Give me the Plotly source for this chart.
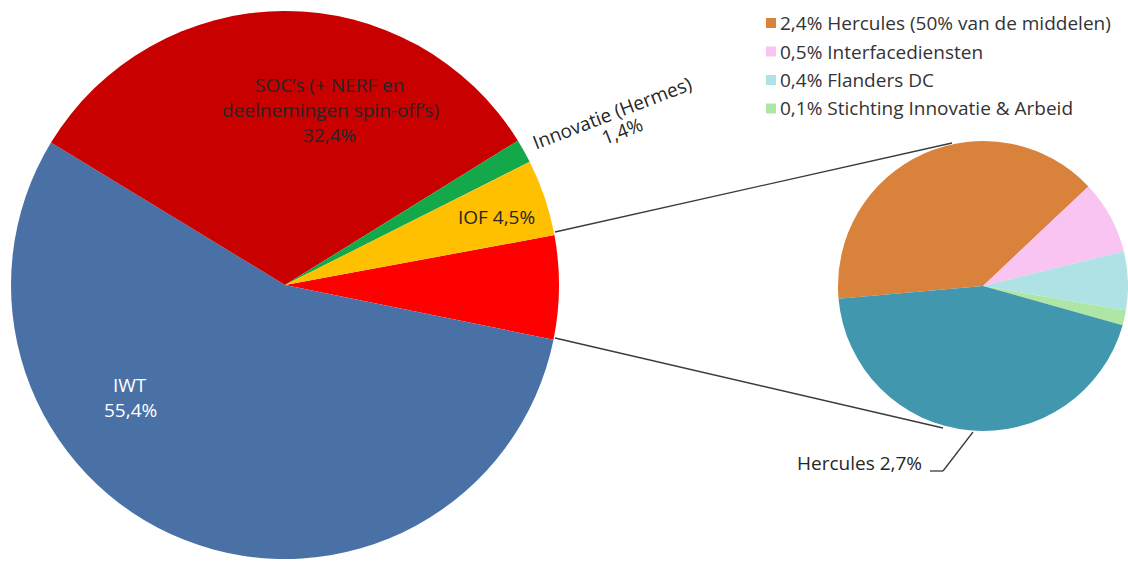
import plotly.graph_objects as go

W, H = 1128, 561

# ---- data ----
main_labels = ["Overige", "IWT", "SOC’s (+ NERF en deelnemingen spin-off’s)", "Innovatie (Hermes)", "IOF"]
main_values = [6.1, 55.4, 32.4, 1.4, 4.5]
main_colors = ["#FF0000", "#4A71A6", "#C80000", "#13A84A", "#FFC000"]

sub_labels = ["Hercules (50% van de middelen)", "Interfacediensten", "Flanders DC",
              "Stichting Innovatie & Arbeid", "Hercules"]
sub_values = [2.4, 0.5, 0.4, 0.1, 2.7]
sub_colors = ["#D9823B", "#F9C3F2", "#AEE2E5", "#AEE6A6", "#4097AE"]
legend_idx = [0, 1, 2, 3]


def pct(v):
    return f"{v:.1f}".replace(".", ",") + "%"


def px(x, y):
    return x / W, 1 - y / H


def dom(cx, cy, r):
    return dict(x=[max(0, (cx - r) / W), min(1, (cx + r) / W)],
                y=[max(0, (H - cy - r) / H), min(1, (H - cy + r) / H)])


FONT = "Open Sans"
TXT = "#262626"
FS = 19

fig = go.Figure()
fig.add_trace(go.Pie(
    labels=main_labels, values=main_values, sort=False, direction="clockwise",
    rotation=79.5, marker=dict(colors=main_colors, line=dict(width=0)),
    textinfo="none", hoverinfo="label+value", showlegend=False,
    domain=dom(285, 285, 274)))
fig.add_trace(go.Pie(
    labels=sub_labels, values=sub_values, sort=False, direction="clockwise",
    rotation=265, marker=dict(colors=sub_colors, line=dict(width=0)),
    textinfo="none", hoverinfo="label+value", showlegend=False,
    domain=dom(983, 286, 145)))

ann = []


def add_text(text, x, y, color=TXT, size=FS, angle=0, xanchor="center"):
    ax, ay = px(x, y)
    ann.append(dict(text=text, x=ax, y=ay, xref="paper", yref="paper", showarrow=False,
                    xanchor=xanchor, yanchor="middle", textangle=angle,
                    font=dict(family=FONT, size=size, color=color)))


# main pie labels
add_text("SOC’s (+ NERF en", 329, 85)
add_text("deelnemingen spin-off’s)", 330, 110)
add_text(pct(main_values[2]), 329, 135)
add_text(main_labels[1], 130, 385, color="white")
add_text(pct(main_values[1]), 130, 410, color="white")
add_text(f"{main_labels[4]} {pct(main_values[4])}", 496, 217)
add_text(main_labels[3], 612, 113, angle=-21)
add_text(pct(main_values[3]), 622, 131, angle=-21)
add_text(f"{sub_labels[4]} {pct(sub_values[4])}", 924, 463, xanchor="right")

# legend (manual)
ly0, ldy = 23, 28.5
for k, i in enumerate(legend_idx):
    y = ly0 + k * ldy
    add_text(f"{pct(sub_values[i])} {sub_labels[i]}", 778, y, color="#333333", xanchor="left")

shapes = []
for k, i in enumerate(legend_idx):
    y = ly0 + k * ldy
    x0, y0 = px(766, y - 5)
    x1, y1 = px(776, y + 5)
    shapes.append(dict(type="rect", xref="paper", yref="paper", x0=x0, x1=x1, y0=y0, y1=y1,
                       fillcolor=sub_colors[i], line=dict(width=0)))


def line(xa, ya, xb, yb):
    a = px(xa, ya)
    b = px(xb, yb)
    shapes.append(dict(type="line", xref="paper", yref="paper", x0=a[0], y0=a[1], x1=b[0], y1=b[1],
                       line=dict(color="#3a3a3a", width=1.3)))


line(555, 232, 952, 143)
line(555, 338, 943, 428)
line(930, 471, 943, 471)
line(943, 471, 973, 432)

fig.update_layout(width=W, height=H, margin=dict(l=0, r=0, t=0, b=0),
                  paper_bgcolor="white", plot_bgcolor="white",
                  annotations=ann, shapes=shapes, showlegend=False)
fig.write_html("out.html", config={"displayModeBar": False},
               post_script="document.body.style.margin='0';document.body.style.overflow='hidden';")
